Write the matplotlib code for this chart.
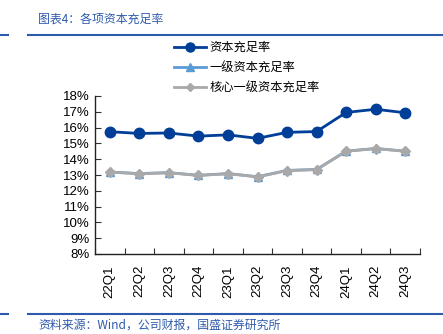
import matplotlib
matplotlib.use("Agg")
import matplotlib.pyplot as plt
from matplotlib.lines import Line2D
import numpy as np

plt.rcParams['font.family'] = ['Liberation Sans', 'Noto Sans CJK SC', 'DejaVu Sans']

categories = ["22Q1", "22Q2", "22Q3", "22Q4", "23Q1", "23Q2", "23Q3", "23Q4", "24Q1", "24Q2", "24Q3"]
car = [15.74, 15.63, 15.66, 15.46, 15.54, 15.32, 15.70, 15.75, 16.96, 17.16, 16.94]
tier1 = [13.19, 13.09, 13.15, 12.98, 13.09, 12.89, 13.29, 13.35, 14.51, 14.68, 14.51]
core_tier1 = [13.18, 13.08, 13.14, 12.97, 13.08, 12.88, 13.28, 13.34, 14.50, 14.67, 14.50]
yticks = list(range(8, 19))
series_names = ["资本充足率", "一级资本充足率", "核心一级资本充足率"]
title = "图表4：各项资本充足率"
source = "资料来源：Wind，公司财报，国盛证券研究所"

W, H = 443, 334
fig = plt.figure(figsize=(W / 100, H / 100), dpi=100)
ax = fig.add_axes([95 / W, 1 - 254 / H, (420 - 95) / W, (254 - 96) / H])

x = np.arange(len(categories))
c_blue = "#003E98"
c_lblue = "#5B9BD5"
c_gray = "#A9A9A9"

ax.plot(x, tier1, color=c_lblue, lw=2.0, marker="^", ms=6, zorder=3)
ax.plot(x, core_tier1, color=c_gray, lw=2.0, marker="D", ms=5, zorder=4)
ax.plot(x, car, color=c_blue, lw=2.0, marker="o", ms=7.5, zorder=5)

ax.set_xlim(-0.5, len(categories) - 0.5)
ax.set_ylim(8, 18)
ax.set_yticks(yticks)
ax.set_yticklabels([f"{v}%" for v in yticks], fontsize=9.5)
ax.set_xticks(x)
ax.set_xticklabels(categories, rotation=90, fontsize=9.5)
ax.set_xticks(np.arange(-0.5, len(categories)), minor=True)
ax.tick_params(axis="x", which="major", length=0, pad=8)
ax.tick_params(axis="x", which="minor", direction="in", length=4, width=0.8, color="#333333")
ax.tick_params(axis="y", direction="in", length=4, width=0.8, color="#333333", pad=4)
for s in ["top", "right"]:
    ax.spines[s].set_visible(False)
for s in ["left", "bottom"]:
    ax.spines[s].set_color("#222222")
    ax.spines[s].set_linewidth(1.0)

handles = [
    Line2D([], [], color=c_blue, lw=2.0, marker="o", ms=6.5),
    Line2D([], [], color=c_lblue, lw=2.0, marker="^", ms=6),
    Line2D([], [], color=c_gray, lw=2.0, marker="D", ms=4.5),
]
fig.legend(handles, series_names, loc="upper left", bbox_to_anchor=(163 / W, 1 - 30 / H),
           frameon=False, handlelength=2.6, handletextpad=0.3, labelspacing=0.6,
           prop={"family": ["Noto Sans CJK SC"], "size": 8.8})

line_c = "#2E5AAC"
for yy in (35, 314):
    fig.add_artist(Line2D([0, 8 / W], [1 - yy / H] * 2, color=line_c, lw=1.5))
    fig.add_artist(Line2D([28 / W, 1], [1 - yy / H] * 2, color=line_c, lw=1.5))

fig.text(38 / W, 1 - 19 / H, title, color="#2E5AAC", fontsize=8.6, va="center", ha="left",
         family=["Noto Sans CJK SC", "DejaVu Sans"], style="italic")
fig.text(38 / W, 1 - 325 / H, source, color="#2E5AAC", fontsize=8.6, va="center", ha="left",
         family=["Noto Sans CJK SC", "DejaVu Sans"], style="italic")

fig.savefig("out.png", dpi=100)
